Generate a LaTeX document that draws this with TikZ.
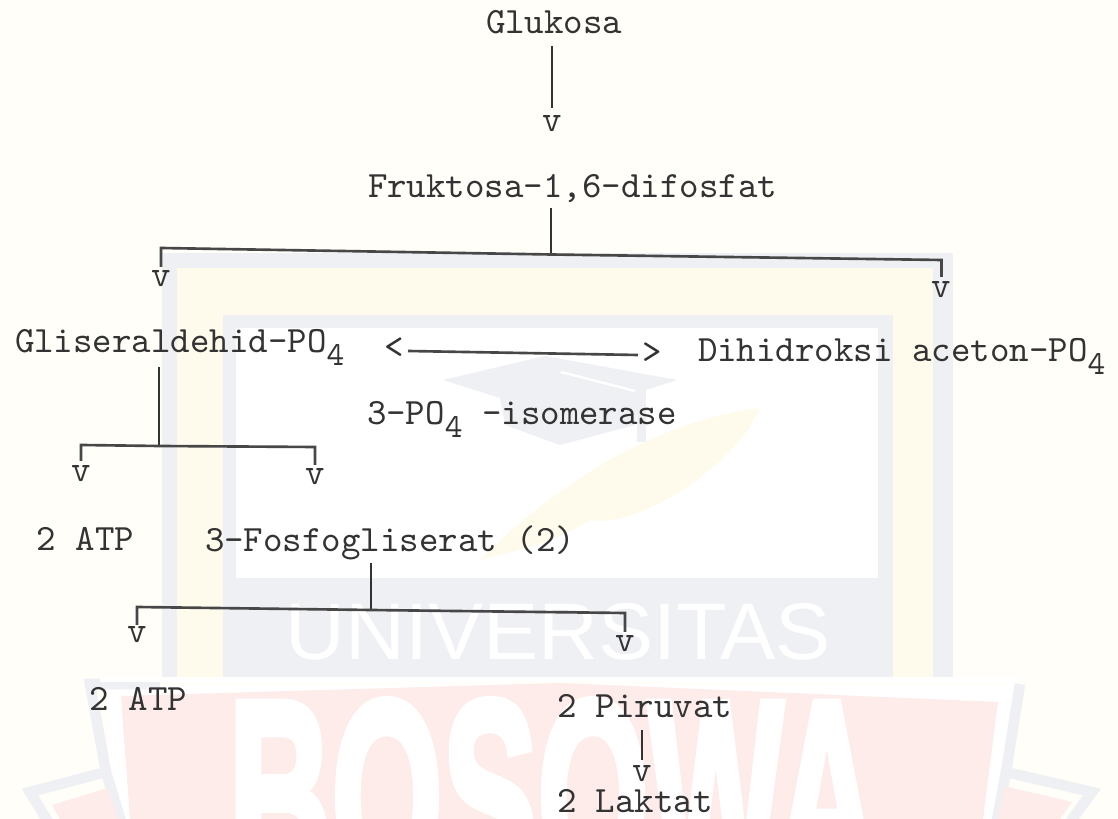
\documentclass[tikz,border=0pt]{standalone}
\usepackage{fontspec}
\usepackage{graphicx}
\newfontfamily\wmfont{Liberation Sans}
\newfontfamily\wmheavy[FakeBold=3.5]{Liberation Sans Bold}
\definecolor{paper}{HTML}{FFFEF8}
\definecolor{wmgrey}{HTML}{EFF0F4}
\definecolor{wmyellow}{HTML}{FFFBEC}
\definecolor{wmpink}{HTML}{FDECEA}
\definecolor{ink}{HTML}{333333}
\newcommand{\subf}[1]{\raisebox{-3.6pt}{\fontsize{9.6}{10}\selectfont #1}}
\tikzset{
  label text/.style={anchor=base west,inner sep=0pt,outer sep=0pt,text=ink,font=\fontsize{10.55}{12}\selectfont\ttfamily},
  vhead/.style={anchor=base,inner sep=0pt,outer sep=0pt,text=ink,font=\fontsize{10.55}{12}\selectfont\ttfamily},
  link/.style={draw=ink,line width=0.55pt},
  bar/.style={draw=ink!90,line width=0.75pt},
  wmline/.style={draw=wmgrey,line width=3pt,line join=miter}
}
\begin{document}
\begin{tikzpicture}[x=0.01cm,y=-0.01cm]
\useasboundingbox (0,0) rectangle (1118,819);
\begin{scope}
\clip (0,0) rectangle (1118,819);
% paper and faint watermark
\fill[paper] (0,0) rectangle (1118,819);
\fill[wmgrey] (162,253) rectangle (953,677);
\fill[wmyellow] (177,268) rectangle (933,677);
\fill[wmgrey] (223,315) rectangle (893,677);
\fill[white] (236,328) rectangle (878,578);
\fill[wmgrey] (236,578) rectangle (878,677);
\fill[wmgrey] (443,380) -- (545,356) -- (677,380) -- (640,392) -- (635,425) -- (560,445) -- (505,425) -- (500,398) -- cycle;
\fill[white] (562,371) -- (636,390) -- (634,392) -- (560,373) -- cycle;
\fill[wmgrey] (637,390) rectangle (646,442);
\fill[wmyellow] (480,560) .. controls (560,480) and (660,420) .. (760,408) .. controls (740,460) and (640,530) .. (590,520) .. controls (560,540) and (520,550) .. (480,560) -- cycle;
\node[inner sep=0pt,text=white,anchor=south west] (wmuni) at (285,661) {\resizebox{5.45cm}{0.56cm}{\wmfont UNIVERSITAS}};
\fill[white] (108,684) -- (1019,684) -- (1005,770) -- (1005,819) -- (122,819) -- (107,770) -- cycle;
\draw[wmline] (160,684) -- (90,684) -- (106,772) -- (30,792) -- (50,825);
\draw[wmline] (106,772) -- (122,825);
\draw[wmline] (1020,684) -- (1006,772) -- (1092,792) -- (1068,825);
\draw[wmline] (1006,772) -- (996,825);
\fill[white] (100,677) rectangle (1020,682);
\fill[wmpink] (121,696) -- (560,683) -- (998,702) -- (983,819) -- (130,819) -- cycle;
\fill[wmpink] (52,805) -- (108,788) -- (118,819) -- (60,819) -- cycle;
\fill[wmpink] (1004,786) -- (1072,802) -- (1060,819) -- (998,819) -- cycle;
\node[inner sep=0pt,text=white,anchor=north west] (wmbos) at (228,700) {\resizebox{6.49cm}{1.9cm}{\wmheavy BOSOWA}};
\end{scope}
% labels
\node[label text] (glukosa) at (486,34) {Glukosa};
\node[label text] (fruktosa) at (368,198) {Fruktosa-1,6-difosfat};
\node[label text] (gliser) at (15,353) {Gliseraldehid-PO\subf{4}};
\node[label text] (dihid) at (698,362) {Dihidroksi aceton-PO\subf{4}};
\node[label text] (isom) at (367,425) {3-PO\subf{4} -isomerase};
\node[label text] (atpa) at (37,551) {2 ATP};
\node[label text] (fosfo) at (205,552) {3-Fosfogliserat (2)};
\node[label text] (atpb) at (90,711) {2 ATP};
\node[label text] (piruvat) at (557,718) {2 Piruvat};
\node[label text] (laktat) at (557,813) {2 Laktat};
% typed arrow heads
\node[vhead] (v1) at (552,132) {v};
\node[vhead] (v2) at (161,287) {v};
\node[vhead] (v3) at (941,298) {v};
\node[vhead] (v4) at (81,482) {v};
\node[vhead] (v5) at (315,485) {v};
\node[vhead] (v6) at (137,643) {v};
\node[vhead] (v7) at (625,652) {v};
\node[vhead] (v8) at (642,782) {v};
\node[vhead] (hl) at (394,359) {<};
\node[vhead] (hr) at (652,364) {>};
% junctions
\coordinate (jf) at (551,254.5);
\coordinate (jg) at (159,446);
\coordinate (jp) at (371,610);
\coordinate (al) at (408,351);
\coordinate (ar) at (638,355);
% connectors
\draw[link] (552,46) -- (552,108);
\draw[link] (jf) -- (551,208);
\draw[bar] (161,267) -- (161,248) -- (jf) -- (941.5,260) -- (941.5,277);
\draw[link] (jg) -- (159,367);
\draw[bar] (81,461) -- (81,445) -- (jg) -- (315,447) -- (315,465);
\draw[bar] (al) -- (ar);
\draw[link] (jp) -- (371,563);
\draw[bar] (137,625) -- (137,607) -- (jp) -- (625,613) -- (625,632);
\draw[link] (642,730) -- (642,760);
\end{tikzpicture}
\end{document}
